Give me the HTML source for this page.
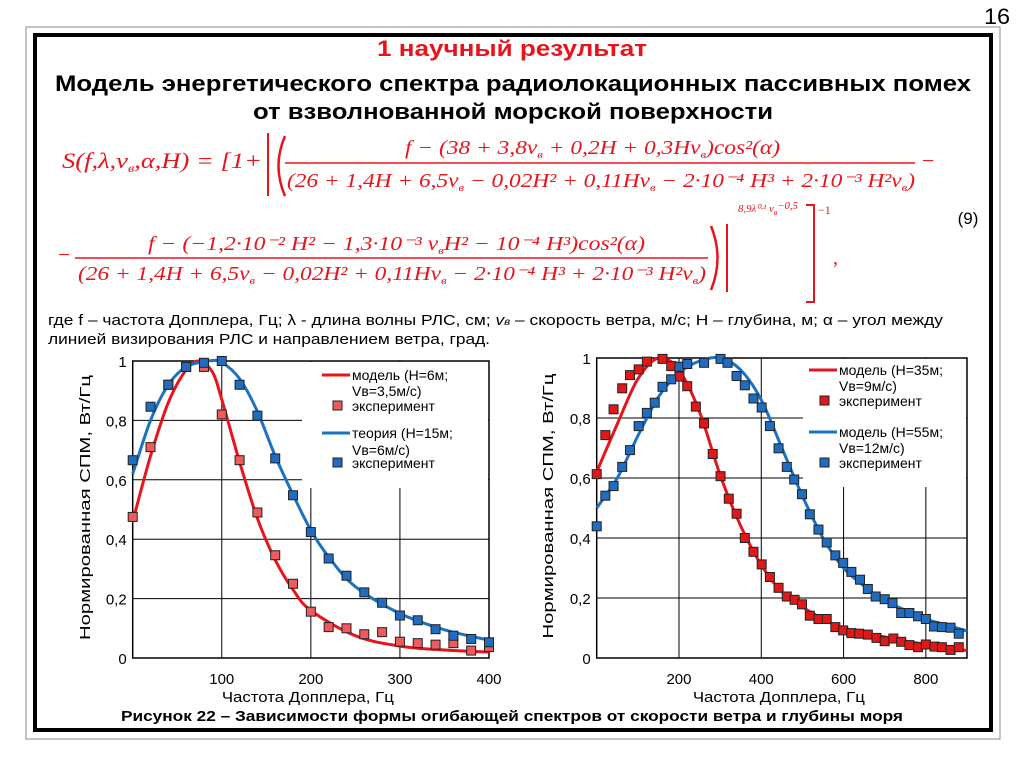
<!DOCTYPE html>
<html><head><meta charset="utf-8"><style>
html,body{margin:0;padding:0;background:#fff;}
svg{display:block;}
text{font-family:"Liberation Sans",sans-serif;}
.f{font-family:"Liberation Serif",serif;font-style:italic;fill:#e8141c;}
.fn{font-family:"Liberation Serif",serif;fill:#e8141c;}
</style></head><body>
<svg id="s" width="1024" height="767" viewBox="0 0 1024 767" xmlns="http://www.w3.org/2000/svg">
<text x="997" y="24" font-size="22" text-anchor="middle" textLength="26" lengthAdjust="spacingAndGlyphs">16</text>
<rect x="26" y="27" width="974" height="712" fill="none" stroke="#888" stroke-width="1"/>
<rect x="35" y="35" width="956" height="695" fill="none" stroke="#000" stroke-width="4"/>
<text x="512" y="56" font-size="22" font-weight="bold" fill="#e8141c" text-anchor="middle" textLength="270" lengthAdjust="spacingAndGlyphs">1 научный результат</text>
<text x="513" y="91" font-size="22" font-weight="bold" text-anchor="middle" textLength="916" lengthAdjust="spacingAndGlyphs">Модель энергетического спектра радиолокационных пассивных помех</text>
<text x="513" y="119" font-size="22" font-weight="bold" text-anchor="middle" textLength="520" lengthAdjust="spacingAndGlyphs">от взволнованной морской поверхности</text>

<g>
<text class="f" x="62" y="168" font-size="22" textLength="200" lengthAdjust="spacingAndGlyphs">S(f,λ,v<tspan font-size="12" dy="4">в</tspan><tspan dy="-4">,α,H) = [1+</tspan></text>
<line x1="268" y1="133" x2="268" y2="196" stroke="#e8141c" stroke-width="2"/>
<path d="M285 136 Q272 166 285 196" fill="none" stroke="#e8141c" stroke-width="2.5"/>
<text class="f" x="405" y="154" font-size="20" textLength="375" lengthAdjust="spacingAndGlyphs">f − (38 + 3,8v<tspan font-size="11" dy="4">в</tspan><tspan dy="-4"> + 0,2H + 0,3Hv</tspan><tspan font-size="11" dy="4">в</tspan><tspan dy="-4">)cos²(α)</tspan></text>
<line x1="285" y1="163" x2="915" y2="163" stroke="#e8141c" stroke-width="1.5"/>
<text class="f" x="287" y="187" font-size="20" textLength="628" lengthAdjust="spacingAndGlyphs">(26 + 1,4H + 6,5v<tspan font-size="11" dy="4">в</tspan><tspan dy="-4"> − 0,02H² + 0,11Hv</tspan><tspan font-size="11" dy="4">в</tspan><tspan dy="-4"> − 2·10⁻⁴ H³ + 2·10⁻³ H²v</tspan><tspan font-size="11" dy="4">в</tspan><tspan dy="-4">)</tspan></text>
<text class="fn" x="922" y="168" font-size="22">−</text>
<text class="fn" x="58" y="262" font-size="22">−</text>
<text class="f" x="148" y="250" font-size="20" textLength="497" lengthAdjust="spacingAndGlyphs">f − (−1,2·10⁻² H² − 1,3·10⁻³ v<tspan font-size="11" dy="4">в</tspan><tspan dy="-4">H² − 10⁻⁴ H³)cos²(α)</tspan></text>
<line x1="75" y1="258" x2="708" y2="258" stroke="#e8141c" stroke-width="1.5"/>
<text class="f" x="78" y="280" font-size="20" textLength="628" lengthAdjust="spacingAndGlyphs">(26 + 1,4H + 6,5v<tspan font-size="11" dy="4">в</tspan><tspan dy="-4"> − 0,02H² + 0,11Hv</tspan><tspan font-size="11" dy="4">в</tspan><tspan dy="-4"> − 2·10⁻⁴ H³ + 2·10⁻³ H²v</tspan><tspan font-size="11" dy="4">в</tspan><tspan dy="-4">)</tspan></text>
<path d="M711 226 Q724 258 711 290" fill="none" stroke="#e8141c" stroke-width="2.5"/>
<line x1="727" y1="224" x2="727" y2="292" stroke="#e8141c" stroke-width="2"/>
<text class="f" x="738" y="212" font-size="11" textLength="60" lengthAdjust="spacingAndGlyphs">8,9λ⁰·¹ v<tspan font-size="8" dy="3">в</tspan><tspan dy="-6">−0,5</tspan></text>
<path d="M806 205 H814 V302 H806" fill="none" stroke="#e8141c" stroke-width="2"/>
<text class="fn" x="818" y="214" font-size="12">−1</text>
<text class="fn" x="833" y="264" font-size="20">,</text>
</g>
<text x="968" y="224" font-size="17" text-anchor="middle">(9)</text>
<text x="48" y="325" font-size="15" textLength="895" lengthAdjust="spacingAndGlyphs">где f – частота Допплера, Гц; λ  - длина волны РЛС, см; <tspan font-style="italic">v<tspan font-size="10">в</tspan></tspan> – скорость ветра, м/с; Н – глубина, м; α – угол между</text>
<text x="48" y="344" font-size="15" textLength="442" lengthAdjust="spacingAndGlyphs">линией визирования РЛС и направлением ветра, град.</text>

<g id="c1"></g>
<g id="c2"></g>

<text x="512" y="721" font-size="15" font-weight="bold" text-anchor="middle" textLength="782" lengthAdjust="spacingAndGlyphs">Рисунок 22 – Зависимости  формы огибающей спектров от скорости ветра и глубины моря</text>
</svg>
<script>
// ---- Left chart data ----
const L_xTicks = [100, 200, 300, 400];
const L_yTicks = [0, 0.2, 0.4, 0.6, 0.8, 1];
const L_yTickLabels = ["0", "0,2", "0,4", "0,6", "0,8", "1"];
const L_redLineX = [0, 20, 40, 60, 75, 90, 100, 120, 140, 160, 180, 200, 250, 300, 350, 400];
const L_redLineY = [0.46, 0.68, 0.86, 0.97, 1.0, 0.96, 0.87, 0.66, 0.47, 0.33, 0.23, 0.16, 0.075, 0.04, 0.027, 0.02];
const L_blueLineX = [0, 20, 40, 60, 85, 100, 120, 140, 160, 180, 200, 220, 250, 300, 350, 400];
const L_blueLineY = [0.62, 0.80, 0.92, 0.98, 1.0, 0.995, 0.94, 0.83, 0.68, 0.55, 0.43, 0.34, 0.24, 0.15, 0.095, 0.06];
const L_redPtsX = [0, 20, 40, 60, 80, 100, 120, 140, 160, 180, 200, 220, 240, 260, 280, 300, 320, 340, 360, 380, 400];
const L_redPtsY = [0.475, 0.71, 0.92, 0.98, 0.98, 0.82, 0.666, 0.49, 0.346, 0.25, 0.156, 0.104, 0.10, 0.08, 0.087, 0.055, 0.05, 0.045, 0.05, 0.025, 0.037];
const L_bluePtsX = [0, 20, 40, 60, 80, 100, 120, 140, 160, 180, 200, 220, 240, 260, 280, 300, 320, 340, 360, 380, 400];
const L_bluePtsY = [0.666, 0.846, 0.92, 0.98, 0.994, 1.0, 0.92, 0.816, 0.672, 0.548, 0.424, 0.335, 0.277, 0.221, 0.186, 0.143, 0.127, 0.097, 0.075, 0.064, 0.053];
// ---- Right chart data ----
const R_xTicks = [200, 400, 600, 800];
const R_yTicks = [0, 0.2, 0.4, 0.6, 0.8, 1];
const R_yTickLabels = ["0", "0,2", "0,4", "0,6", "0,8", "1"];
const R_redLineX = [0, 50, 100, 150, 200, 250, 300, 350, 400, 450, 500, 550, 600, 700, 800, 900];
const R_redLineY = [0.62, 0.78, 0.93, 1.0, 0.96, 0.82, 0.61, 0.44, 0.31, 0.22, 0.17, 0.13, 0.10, 0.07, 0.045, 0.025];
const R_blueLineX = [0, 50, 100, 150, 200, 250, 300, 350, 400, 450, 500, 550, 600, 650, 700, 750, 800, 850, 900];
const R_blueLineY = [0.50, 0.60, 0.74, 0.87, 0.95, 0.99, 1.0, 0.96, 0.86, 0.70, 0.54, 0.40, 0.30, 0.24, 0.19, 0.16, 0.13, 0.11, 0.09];
const R_redPtsX = [0, 21, 41, 62, 81, 102, 122, 160, 181, 201, 220, 241, 261, 282, 301, 321, 340, 360, 381, 401, 421, 442, 462, 481, 499, 518, 539, 559, 580, 599, 619, 638, 659, 680, 700, 721, 740, 760, 781, 800, 821, 839, 860, 880];
const R_redPtsY = [0.613, 0.743, 0.829, 0.899, 0.943, 0.962, 0.988, 0.997, 0.973, 0.938, 0.906, 0.838, 0.782, 0.680, 0.606, 0.531, 0.481, 0.400, 0.354, 0.312, 0.270, 0.234, 0.205, 0.194, 0.179, 0.141, 0.130, 0.130, 0.103, 0.092, 0.083, 0.081, 0.078, 0.067, 0.056, 0.065, 0.054, 0.043, 0.036, 0.045, 0.038, 0.036, 0.027, 0.036];
const R_bluePtsX = [0, 21, 41, 62, 81, 102, 122, 141, 160, 181, 201, 220, 261, 301, 318, 340, 360, 381, 401, 421, 442, 462, 480, 499, 518, 539, 559, 580, 599, 619, 640, 659, 678, 700, 719, 740, 760, 781, 800, 820, 839, 860, 880];
const R_bluePtsY = [0.439, 0.541, 0.573, 0.637, 0.693, 0.773, 0.817, 0.851, 0.904, 0.929, 0.971, 0.980, 0.984, 0.997, 0.984, 0.940, 0.909, 0.865, 0.835, 0.773, 0.699, 0.637, 0.595, 0.546, 0.479, 0.428, 0.385, 0.342, 0.317, 0.287, 0.261, 0.230, 0.205, 0.196, 0.183, 0.150, 0.150, 0.139, 0.130, 0.105, 0.103, 0.101, 0.081];

const NS = "http://www.w3.org/2000/svg";
function mk(parent, tag, attrs, txt) {
  const e = document.createElementNS(NS, tag);
  for (const k in attrs) e.setAttribute(k, attrs[k]);
  if (txt !== undefined) e.textContent = txt;
  parent.appendChild(e);
  return e;
}
function spline(pts) {
  let d = "M" + pts[0][0].toFixed(1) + " " + pts[0][1].toFixed(1);
  for (let i = 0; i < pts.length - 1; i++) {
    const p0 = pts[i - 1] || pts[i], p1 = pts[i], p2 = pts[i + 1], p3 = pts[i + 2] || p2;
    const c1x = p1[0] + (p2[0] - p0[0]) / 6, c1y = p1[1] + (p2[1] - p0[1]) / 6;
    const c2x = p2[0] - (p3[0] - p1[0]) / 6, c2y = p2[1] - (p3[1] - p1[1]) / 6;
    d += " C" + c1x.toFixed(1) + " " + c1y.toFixed(1) + " " + c2x.toFixed(1) + " " + c2y.toFixed(1) + " " + p2[0].toFixed(1) + " " + p2[1].toFixed(1);
  }
  return d;
}
function chart(g, o) {
  const sx = v => o.x0 + (v / o.xmax) * (o.x1 - o.x0);
  const sy = v => o.y0 - v * (o.y0 - o.y1);
  o.yTicks.forEach((t, i) => {
    if (t > 0 && t < 1) {
      const l = mk(g, "line", {x1: o.x0, x2: o.x1, y1: sy(t), y2: sy(t), stroke: "#000", "stroke-width": 1});
      
      
    }
    const tl = mk(g, "text", {x: o.x0 - 6, y: sy(t) + 6, "font-size": 15, "text-anchor": "end"}, o.yLabels[i]);
    
    
  });
  o.xTicks.forEach(t => {
    const l = mk(g, "line", {x1: sx(t), x2: sx(t), y1: o.y1, y2: o.y0, stroke: "#000", "stroke-width": 1});
    
    
    const tl = mk(g, "text", {x: sx(t), y: o.y0 + 26, "font-size": 15, "text-anchor": "middle"}, String(t));
    
    
  });
  const lb = mk(g, "rect", {x: o.lx, y: o.y1 + 1, width: o.x1 - o.lx - 1, height: o.lh, fill: "#fff"});
  
  
  const fr = mk(g, "rect", {x: o.x0, y: o.y1, width: o.x1 - o.x0, height: o.y0 - o.y1, fill: "none", stroke: "#000", "stroke-width": 1.5});
  
  
  o.series.forEach(s => {
    const pts = s.lx.map((v, i) => [sx(v), sy(s.ly[i])]);
    const p = mk(g, "path", {d: spline(pts), fill: "none", stroke: s.line, "stroke-width": 3});
    
    
  });
  o.series.forEach(s => {
    s.px.forEach((v, i) => {
      const r = mk(g, "rect", {x: sx(v) - 4.5, y: sy(s.py[i]) - 4.5, width: 9, height: 9, fill: s.mark, stroke: "#222", "stroke-width": 1});
      
      
    });
  });
  o.legend.forEach(e => {
    if (e.type === "line") {
      const l = mk(g, "line", {x1: e.x - 30, x2: e.x - 2, y1: e.y - 5, y2: e.y - 5, stroke: e.c, "stroke-width": 3});
      
      
    } else if (e.type === "mark") {
      const r = mk(g, "rect", {x: e.x - 19, y: e.y - 10, width: 9, height: 9, fill: e.c, stroke: "#222", "stroke-width": 1});
      
      
    }
    const t = mk(g, "text", {x: e.x, y: e.y, "font-size": 14}, e.t);
    
    
  });
  const xt = mk(g, "text", {x: (o.x0 + o.x1) / 2 - 3, y: o.y0 + 44, "font-size": 15, "text-anchor": "middle", textLength: 172, lengthAdjust: "spacingAndGlyphs"}, "Частота Допплера, Гц");
  
  
  const yt = mk(g, "text", {x: 0, y: 0, "font-size": 15, "text-anchor": "middle", textLength: 265, lengthAdjust: "spacingAndGlyphs", transform: "translate(" + o.ytx + "," + ((o.y0 + o.y1) / 2 - 2) + ") rotate(-90)"}, "Нормированная СПМ, Вт/Гц");
  
  
}
chart(document.getElementById("c1"), {
  x0: 132.7, x1: 489, xmax: 400, y0: 658, y1: 361, lx: 302, lh: 126, ytx: 90,
  xTicks: L_xTicks, yTicks: L_yTicks, yLabels: L_yTickLabels,
  series: [
    {name: "red", lx: L_redLineX, ly: L_redLineY, px: L_redPtsX, py: L_redPtsY, line: "#e8141c", mark: "#ee5a5e"},
    {name: "blue", lx: L_blueLineX, ly: L_blueLineY, px: L_bluePtsX, py: L_bluePtsY, line: "#1a72c0", mark: "#1f6cc0"}
  ],
  legend: [
    {type: "line", x: 352, y: 380, c: "#e8141c", t: "модель (Н=6м;"},
    {type: "none", x: 352, y: 396, t: "Vв=3,5м/с)"},
    {type: "mark", x: 352, y: 411, c: "#ee5a5e", t: "эксперимент"},
    {type: "line", x: 352, y: 438, c: "#1a72c0", t: "теория (Н=15м;"},
    {type: "none", x: 352, y: 455, t: "Vв=6м/с)"},
    {type: "mark", x: 352, y: 468, c: "#1f6cc0", t: "эксперимент"}
  ]
});
chart(document.getElementById("c2"), {
  x0: 596.7, x1: 967, xmax: 900, y0: 658, y1: 358, lx: 803, lh: 128, ytx: 553,
  xTicks: R_xTicks, yTicks: R_yTicks, yLabels: R_yTickLabels,
  series: [
    {name: "red", lx: R_redLineX, ly: R_redLineY, px: R_redPtsX, py: R_redPtsY, line: "#e8141c", mark: "#e01818"},
    {name: "blue", lx: R_blueLineX, ly: R_blueLineY, px: R_bluePtsX, py: R_bluePtsY, line: "#1a72c0", mark: "#1f6cc0"}
  ],
  legend: [
    {type: "line", x: 839, y: 375, c: "#e8141c", t: "модель (Н=35м;"},
    {type: "none", x: 839, y: 391, t: "Vв=9м/с)"},
    {type: "mark", x: 839, y: 406, c: "#e01818", t: "эксперимент"},
    {type: "line", x: 839, y: 437, c: "#1a72c0", t: "модель (Н=55м;"},
    {type: "none", x: 839, y: 453, t: "Vв=12м/с)"},
    {type: "mark", x: 839, y: 468, c: "#1f6cc0", t: "эксперимент"}
  ]
});
</script>
</body></html>
